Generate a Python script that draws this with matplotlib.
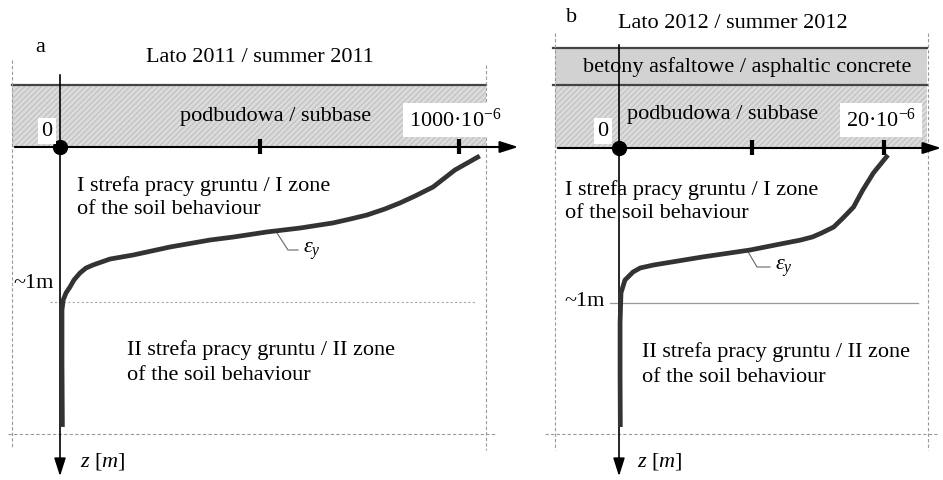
import matplotlib
matplotlib.use("Agg")
import matplotlib.pyplot as plt
from matplotlib.patches import Rectangle

plt.rcParams['font.family'] = ['Liberation Serif', 'DejaVu Serif']
plt.rcParams['mathtext.fontset'] = 'custom'
plt.rcParams['mathtext.rm'] = 'Liberation Serif'
plt.rcParams['mathtext.it'] = 'Liberation Serif:italic'

# ---------------- data ----------------
# Panel a: summer 2011, strain [1e-6] vs depth z [m]
strain_a = [1052, 990, 935, 890, 852, 814, 769, 727, 684, 601, 519, 434, 376, 276, 183,
            125, 83, 65, 50, 35, 25, 15, 8, 5, 5, 6]
depth_a = [0.058, 0.148, 0.258, 0.316, 0.361, 0.400, 0.439, 0.465, 0.490, 0.523, 0.548,
           0.581, 0.600, 0.645, 0.697, 0.723, 0.761, 0.781, 0.813, 0.858, 0.903, 0.942,
           0.987, 1.052, 1.40, 1.806]
ticks_a = [500, 1000]
ticklabel_a = "1000·10$^{-6}$"

# Panel b: summer 2012, strain [1e-6] vs depth z [m]
strain_b = [20.3, 19.2, 18.4, 17.7, 16.9, 16.2, 15.3, 14.6, 13.7, 12.2, 9.9, 6.3, 2.6,
            1.6, 1.06, 0.45, 0.15, 0.08, 0.08, 0.1]
depth_b = [0.045, 0.161, 0.271, 0.381, 0.452, 0.510, 0.548, 0.574, 0.594, 0.619, 0.658,
           0.703, 0.755, 0.774, 0.800, 0.852, 0.935, 1.129, 1.45, 1.80]
ticks_b = [10, 20]
ticklabel_b = "20·10$^{-6}$"

W, H = 943, 480
fig = plt.figure(figsize=(W / 100, H / 100), dpi=100)

def fpx(x, y):
    return x / W, 1 - y / H

def txt(x, y, s, **kw):
    fx, fy = fpx(x, y)
    fig.text(fx, fy, s, **kw)

curve_col = '#333333'
band_col = '#dcdcdc'
hatch_col = '#c4c4c4'
M_PX = 155.0

def panel(left_px, right_px, origin_px, unit_px, zero_py):
    ax = fig.add_axes([left_px / W, 0, (right_px - left_px) / W, 1])
    ax.set_xlim((left_px - origin_px) / unit_px, (right_px - origin_px) / unit_px)
    ax.set_ylim((H - zero_py) / M_PX, (0 - zero_py) / M_PX)
    ax.axis('off')
    return ax

arrow_kw = dict(arrowstyle='-|>,head_length=1.1,head_width=0.35', color='black')

# ---------------- panel a ----------------
oa, ua = 60.0, 0.399
axa = panel(0, 520, oa, ua, 147)
za = lambda py: (py - 147) / M_PX
xa = lambda px: (px - oa) / ua
axa.add_patch(Rectangle((xa(12), za(85)), xa(486) - xa(12), za(147) - za(85),
                        facecolor=band_col, edgecolor=hatch_col, hatch='//////', lw=0, zorder=1))
axa.plot([xa(12), xa(486)], [za(85), za(85)], color='#444444', lw=1.6, zorder=2)
axa.plot([xa(12), xa(12)], [za(60), za(447)], color='#999999', lw=0.8, ls=(0, (3, 2)), zorder=2)
axa.plot([xa(486), xa(486)], [za(65), za(450)], color='#999999', lw=0.8, ls=(0, (3, 2)), zorder=2)
axa.plot([xa(8), xa(495)], [za(434), za(434)], color='#999999', lw=0.8, ls=(0, (3, 2)), zorder=2)
axa.plot([xa(50), xa(475)], [1.0, 1.0], color='#aaaaaa', lw=0.8, ls=(0, (2, 2)), zorder=2)
axa.annotate('', xy=(xa(521), 0), xytext=(xa(12), 0),
             arrowprops=dict(lw=1.5, **arrow_kw), zorder=3, annotation_clip=False)
axa.annotate('', xy=(0, za(479)), xytext=(0, za(72)),
             arrowprops=dict(lw=1.2, **arrow_kw), zorder=3, annotation_clip=False)
for t in ticks_a:
    axa.plot([t, t], [za(139), za(154)], color='black', lw=3, solid_capstyle='butt', zorder=4)
axa.plot([0], [0], 'o', color='black', ms=10, zorder=5)
axa.plot(strain_a, depth_a, color=curve_col, lw=3.4, solid_capstyle='butt',
         solid_joinstyle='round', zorder=4)
axa.plot([xa(277), xa(288), xa(298)], [za(233), za(250), za(250)], color='#666666', lw=0.8, zorder=3)

fs = 16
txt(40, 47, 'a', fontsize=fs, ha='center', va='center')
txt(260, 58, 'Lato 2011 / summer 2011', fontsize=fs, ha='center', va='center')
txt(276, 117, 'podbudowa / subbase', fontsize=fs, ha='center', va='center')
txt(47, 131, '0', fontsize=fs, ha='center', va='center',
    bbox=dict(facecolor='white', edgecolor='none', pad=2.5))
txt(455, 120, ticklabel_a, fontsize=fs, ha='center', va='center',
    bbox=dict(facecolor='white', edgecolor='none', pad=4))
txt(77, 186, 'I strefa pracy gruntu / I zone', fontsize=fs, ha='left', va='center')
txt(77, 210, 'of the soil behaviour', fontsize=fs, ha='left', va='center')
txt(127, 350, 'II strefa pracy gruntu / II zone', fontsize=fs, ha='left', va='center')
txt(127, 375, 'of the soil behaviour', fontsize=fs, ha='left', va='center')
txt(54, 283, '~1m', fontsize=fs, ha='right', va='center')
txt(303, 251, r'$\varepsilon_y$', fontsize=fs, ha='left', va='center')
txt(80, 462, r'$z\ [m]$', fontsize=fs, ha='left', va='center')

# ---------------- panel b ----------------
ob, ub = 619.0, 13.25
axb = panel(520, 943, ob, ub, 148)
zb = lambda py: (py - 148) / M_PX
xb = lambda px: (px - ob) / ub
axb.add_patch(Rectangle((xb(555), zb(48)), xb(927) - xb(555), zb(85) - zb(48),
                        facecolor='#d2d2d2', edgecolor='none', lw=0, zorder=1))
axb.add_patch(Rectangle((xb(555), zb(85)), xb(927) - xb(555), zb(148) - zb(85),
                        facecolor=band_col, edgecolor=hatch_col, hatch='//////', lw=0, zorder=1))
axb.plot([xb(553), xb(927)], [zb(48), zb(48)], color='#444444', lw=1.6, zorder=2)
axb.plot([xb(553), xb(927)], [zb(85), zb(85)], color='#444444', lw=1.6, zorder=2)
axb.plot([xb(555), xb(555)], [zb(33), zb(450)], color='#999999', lw=0.8, ls=(0, (3, 2)), zorder=2)
axb.plot([xb(928), xb(928)], [zb(33), zb(450)], color='#999999', lw=0.8, ls=(0, (3, 2)), zorder=2)
axb.plot([xb(545), xb(937)], [zb(434), zb(434)], color='#999999', lw=0.8, ls=(0, (3, 2)), zorder=2)
axb.plot([xb(610), xb(918)], [1.0, 1.0], color='#999999', lw=0.9, zorder=2)
axb.annotate('', xy=(xb(944), 0), xytext=(xb(555), 0),
             arrowprops=dict(lw=1.5, **arrow_kw), zorder=3, annotation_clip=False)
axb.annotate('', xy=(0, zb(479)), xytext=(0, zb(42)),
             arrowprops=dict(lw=1.2, **arrow_kw), zorder=3, annotation_clip=False)
for t in ticks_b:
    axb.plot([t, t], [zb(140), zb(155)], color='black', lw=3, solid_capstyle='butt', zorder=4)
axb.plot([0], [0], 'o', color='black', ms=10, zorder=5)
axb.plot(strain_b, depth_b, color=curve_col, lw=3.4, solid_capstyle='butt',
         solid_joinstyle='round', zorder=4)
axb.plot([xb(747), xb(757), xb(770)], [zb(250), zb(267), zb(267)], color='#666666', lw=0.8, zorder=3)

txt(572, 18, 'b', fontsize=fs, ha='center', va='center')
txt(733, 23, 'Lato 2012 / summer 2012', fontsize=fs, ha='center', va='center')
txt(747, 67, 'betony asfaltowe / asphaltic concrete', fontsize=fs, ha='center', va='center')
txt(723, 115, 'podbudowa / subbase', fontsize=fs, ha='center', va='center')
txt(603, 131, '0', fontsize=fs, ha='center', va='center',
    bbox=dict(facecolor='white', edgecolor='none', pad=2.5))
txt(881, 120, ticklabel_b, fontsize=fs, ha='center', va='center',
    bbox=dict(facecolor='white', edgecolor='none', pad=4))
txt(565, 190, 'I strefa pracy gruntu / I zone', fontsize=fs, ha='left', va='center')
txt(565, 214, 'of the soil behaviour', fontsize=fs, ha='left', va='center')
txt(642, 352, 'II strefa pracy gruntu / II zone', fontsize=fs, ha='left', va='center')
txt(642, 377, 'of the soil behaviour', fontsize=fs, ha='left', va='center')
txt(605, 302, '~1m', fontsize=fs, ha='right', va='center')
txt(775, 268, r'$\varepsilon_y$', fontsize=fs, ha='left', va='center')
txt(637, 462, r'$z\ [m]$', fontsize=fs, ha='left', va='center')

fig.savefig('out.png', dpi=100)
